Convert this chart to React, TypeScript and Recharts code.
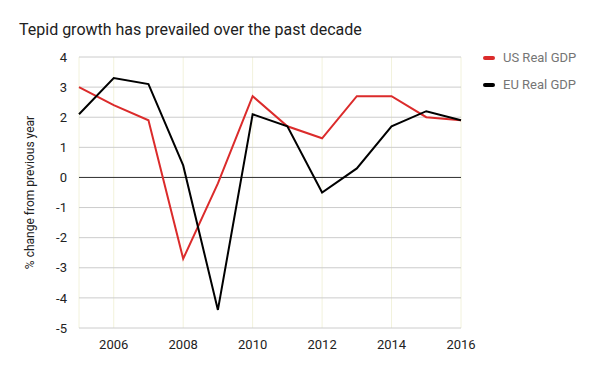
import React from 'react';
import {
  LineChart, Line, XAxis, YAxis, CartesianGrid, ReferenceLine, Label,
} from 'recharts';

const years = [2005, 2006, 2007, 2008, 2009, 2010, 2011, 2012, 2013, 2014, 2015, 2016];
const usGdp = [3.0, 2.4, 1.9, -2.7, -0.2, 2.7, 1.7, 1.3, 2.7, 2.7, 2.0, 1.9];
const euGdp = [2.1, 3.3, 3.1, 0.4, -4.4, 2.1, 1.7, -0.5, 0.3, 1.7, 2.2, 1.9];
const xTicks = [2006, 2008, 2010, 2012, 2014, 2016];
const yTicks = [-5, -4, -3, -2, -1, 0, 1, 2, 3, 4];

const US_COLOR = '#db2b2b';
const EU_COLOR = '#000000';
const FONT = 'Roboto, sans-serif';

const data = years.map((year, i) => ({ year, us: usGdp[i], eu: euGdp[i] }));

const series = [
  { key: 'us', label: 'US Real GDP', color: US_COLOR },
  { key: 'eu', label: 'EU Real GDP', color: EU_COLOR },
];

// legend drawn by hand, sits to the right of the plot
const LegendBox = () => (
  <div style={{ position: 'absolute', left: 483, top: 44, fontSize: 13, color: '#757575' }}>
    {series.map((s) => (
      <div key={s.key} style={{ display: 'flex', alignItems: 'center', height: 27 }}>
        <span
          style={{
            display: 'inline-block', width: 12, height: 4, borderRadius: 2,
            background: s.color, marginRight: 8,
          }}
        />
        {s.label}
      </div>
    ))}
  </div>
);

export default function App() {
  return (
    <div style={{ position: 'relative', width: 600, height: 371, margin: -8, background: '#fff', fontFamily: FONT }}>
      <div style={{ position: 'absolute', left: 19, top: 20, fontSize: 16, color: '#212121' }}>
        Tepid growth has prevailed over the past decade
      </div>
      <LineChart
        width={600}
        height={371}
        data={data}
        margin={{ top: 57, right: 139, bottom: 13, left: 0 }}
      >
        <CartesianGrid horizontal={false} stroke="#f2f2dc" />
        <CartesianGrid vertical={false} stroke="#cccccc" />
        <XAxis
          dataKey="year"
          type="number"
          domain={[2005, 2016]}
          ticks={xTicks}
          height={30}
          axisLine={false}
          tickLine={false}
          tick={{ fill: '#222', fontSize: 13, fontFamily: FONT }}
          tickMargin={6}
        />
        <YAxis
          type="number"
          domain={[-5, 4]}
          ticks={yTicks}
          width={79}
          axisLine={false}
          tickLine={false}
          tick={{ fill: '#222', fontSize: 13, fontFamily: FONT }}
          tickMargin={6}
        >
          <Label
            value="% change from previous year"
            angle={-90}
            position="insideLeft"
            offset={30}
            style={{ textAnchor: 'middle', fill: '#222', fontSize: 12, fontFamily: FONT }}
          />
        </YAxis>
        <ReferenceLine y={0} stroke="#333" strokeWidth={1} />
        {series.map((s) => (
          <Line
            key={s.key}
            dataKey={s.key}
            name={s.label}
            stroke={s.color}
            strokeWidth={2}
            dot={false}
            type="linear"
            isAnimationActive={false}
          />
        ))}
      </LineChart>
      <LegendBox />
    </div>
  );
}
